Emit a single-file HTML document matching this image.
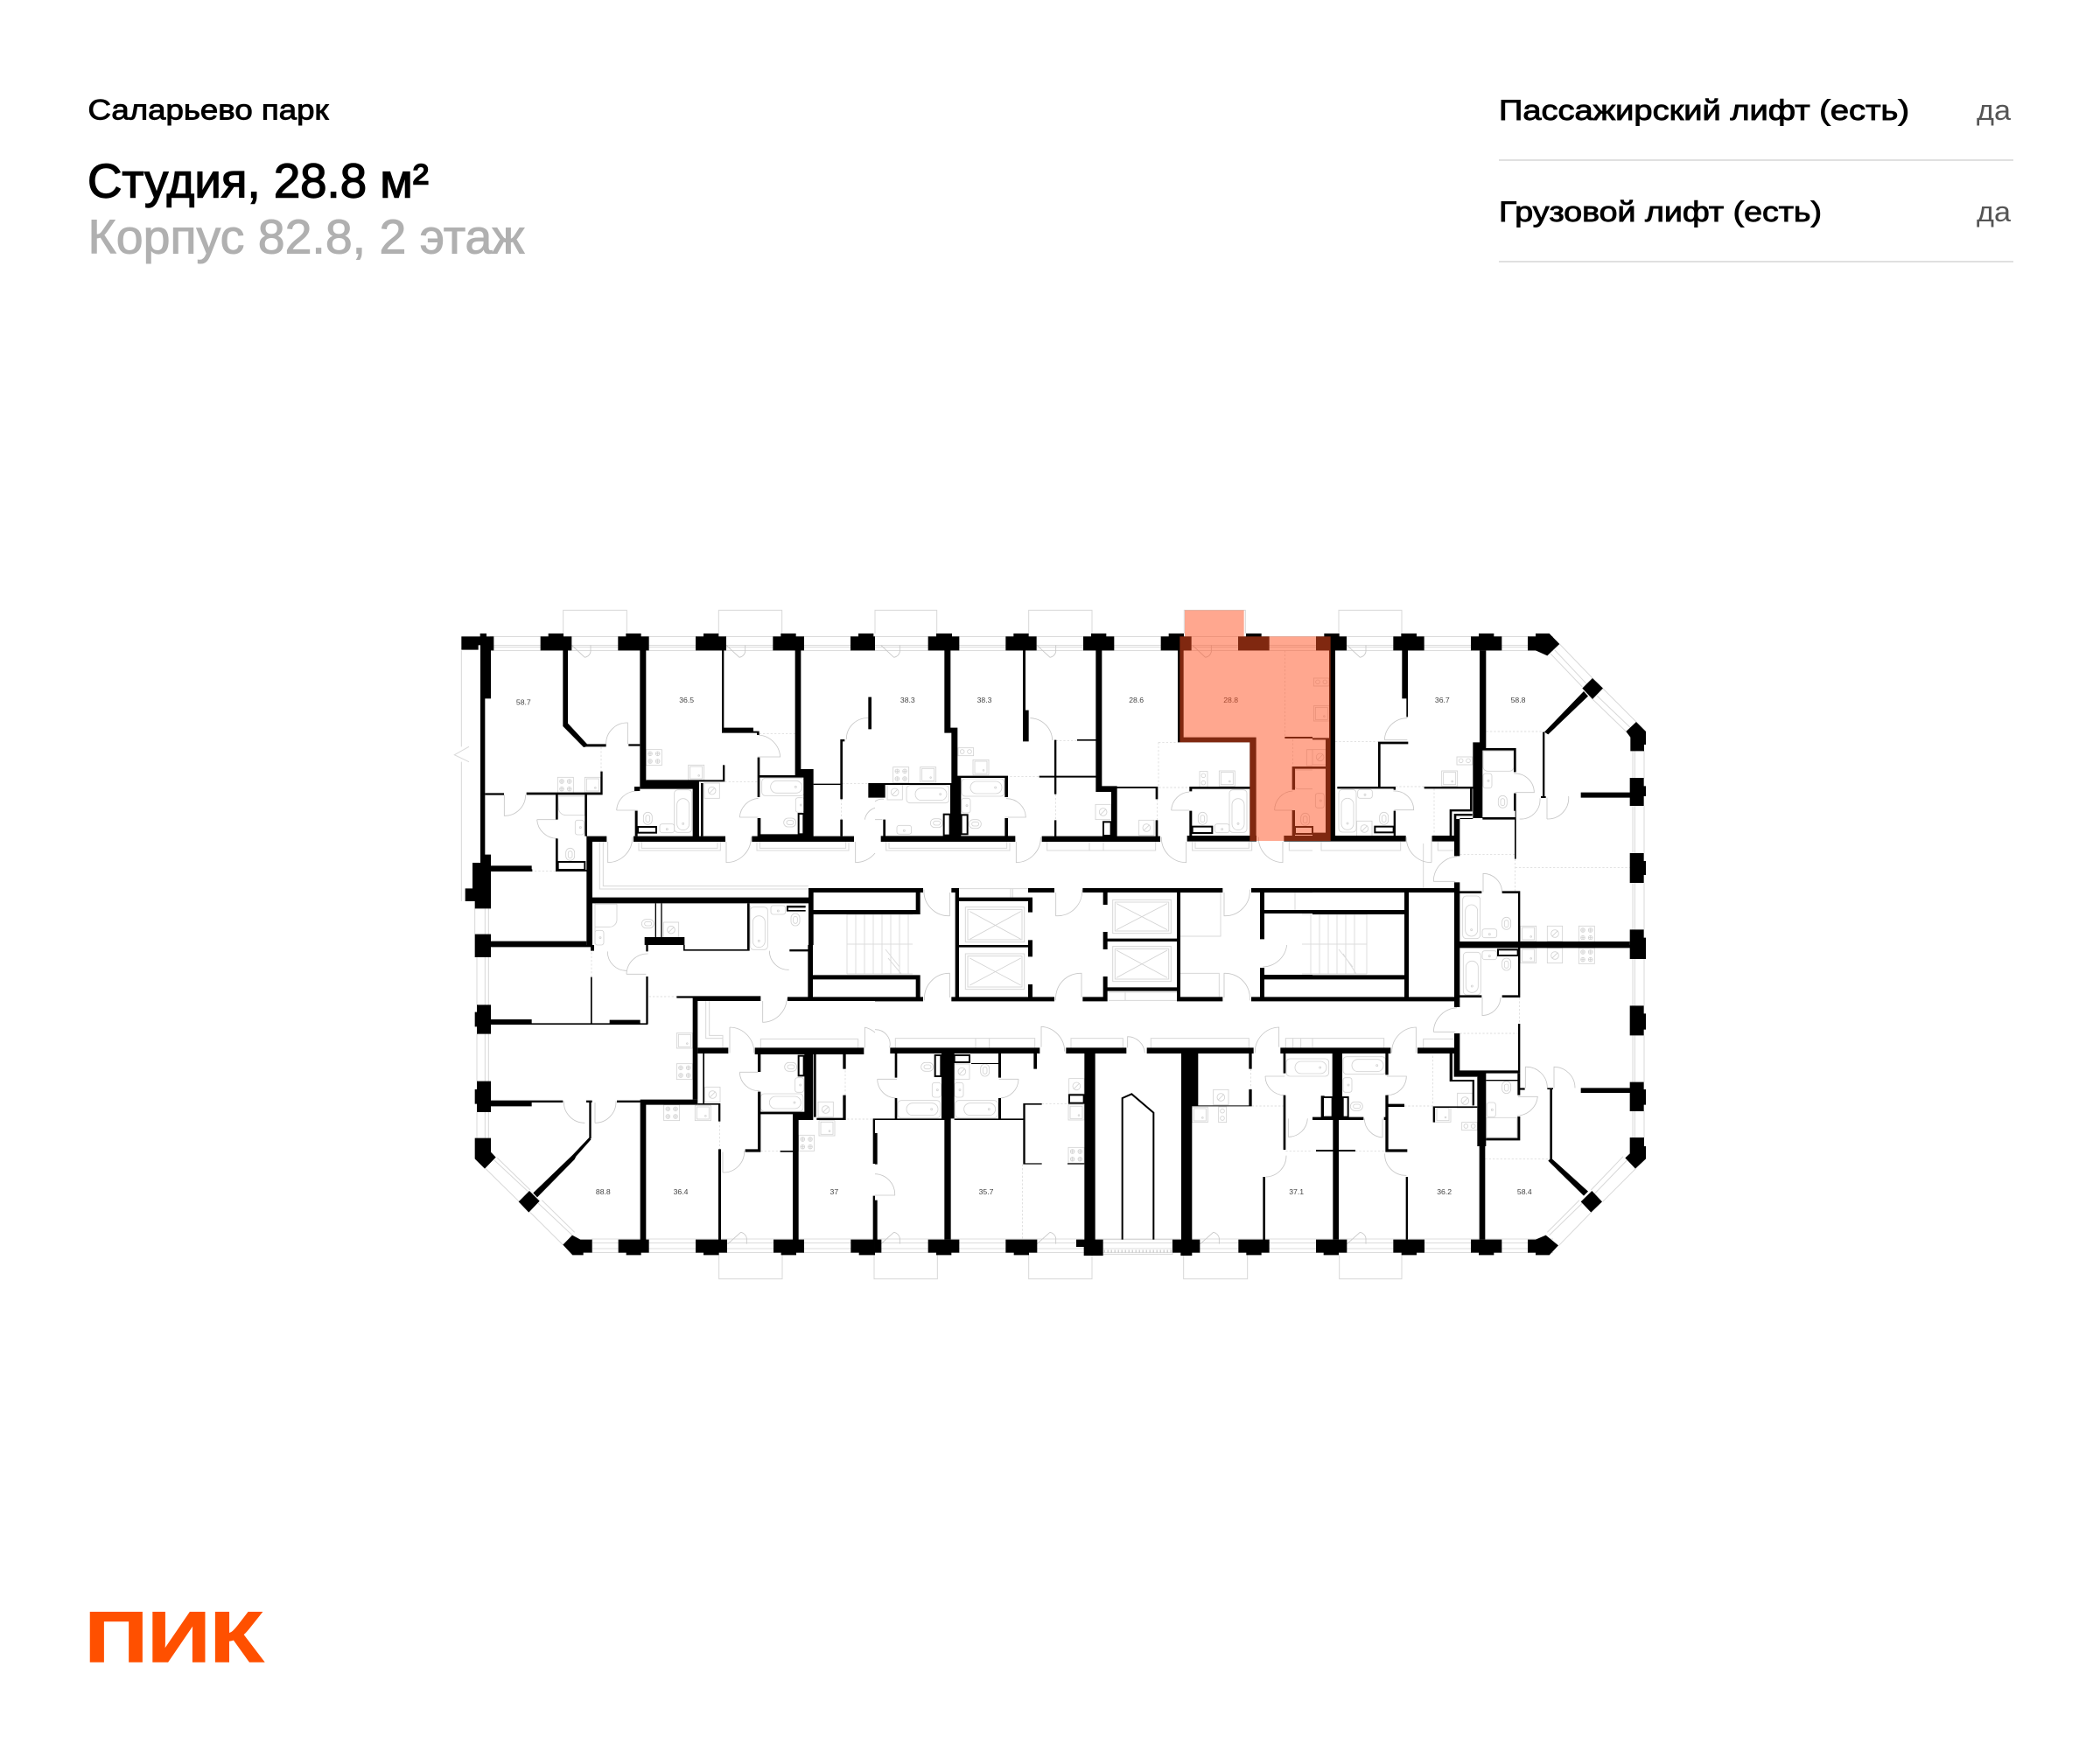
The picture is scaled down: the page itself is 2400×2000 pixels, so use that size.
<!DOCTYPE html>
<html lang="ru"><head><meta charset="utf-8"><title>Студия 28.8</title>
<style>
html,body{margin:0;padding:0;background:#fff}
svg{display:block}
text{font-family:"Liberation Sans",sans-serif}
.l,.l *{fill:none;stroke:#d8d8d8;stroke-width:3}
.f{fill:none;stroke:#d2d2d2;stroke-width:2.5}
.d{fill:none;stroke:#c6c6c6;stroke-width:2.5}
.da{fill:none;stroke:#d2d2d2;stroke-width:2;stroke-dasharray:7 6}
.w{fill:#000}
.s{fill:#fff;stroke:#000;stroke-width:6}
.lb{font-size:26px;fill:#444;text-anchor:middle}
</style></head><body>
<svg xmlns="http://www.w3.org/2000/svg" width="2400" height="2000" viewBox="0 0 2400 2000">
<defs>
<g id="st4" class="f"><rect width="54" height="54"/><circle cx="14" cy="14" r="7"/><circle cx="40" cy="14" r="7"/><circle cx="14" cy="40" r="7"/><circle cx="40" cy="40" r="7"/><path d="M7 14H21M14 7V21M33 14H47M40 7V21M7 40H21M14 33V47M33 40H47M40 33V47"/></g>
<g id="st2" class="f"><rect width="53" height="27"/><circle cx="14" cy="13" r="7"/><circle cx="39" cy="13" r="7"/></g>
<g id="st2v" class="f"><rect width="27" height="53"/><circle cx="13" cy="14" r="7"/><circle cx="13" cy="39" r="7"/></g>
<g id="sq" class="f"><rect width="54" height="52"/><rect x="6" y="5" width="42" height="42"/><circle cx="36" cy="36" r="2.5"/></g>
<g id="ve" class="f"><rect width="52" height="52"/><circle cx="26" cy="26" r="13"/><path d="M16 36L36 16"/></g>
<g id="bh" class="f"><rect width="146" height="60" rx="12"/><rect x="30" y="9" width="108" height="42" rx="21"/><circle cx="116" cy="30" r="3"/></g>
<g id="bv" class="f"><rect width="60" height="146" rx="12"/><rect x="9" y="30" width="42" height="108" rx="21"/><circle cx="30" cy="116" r="3"/></g>
<g id="wc" class="f"><rect width="30" height="42" rx="15"/><rect x="8" y="10" width="14" height="24" rx="7"/></g>
<g id="wch" class="f"><rect width="42" height="30" rx="15"/><rect x="10" y="8" width="24" height="14" rx="7"/></g>
<g id="ba" class="f"><rect width="50" height="30" rx="8"/><circle cx="25" cy="18" r="3"/></g>
<g id="bav" class="f"><rect width="30" height="50" rx="8"/><circle cx="18" cy="25" r="3"/></g>
<g id="tw"><path d="M0 -6L45 36M65 -6V17A25 25 0 0 1 45 36" class="d"/></g>
<g id="bw"><path d="M0 5L45 -35M65 5V-15A25 25 0 0 0 45 -35" class="d"/></g>
</defs>

<!-- header -->
<text x="100.5" y="136.5" font-size="32" fill="#000" stroke="#000" stroke-width=".9" textLength="275" lengthAdjust="spacingAndGlyphs">Саларьево парк</text>
<text x="100" y="225.5" font-size="55" fill="#000" stroke="#000" stroke-width="1.4" textLength="390" lengthAdjust="spacingAndGlyphs">Студия, 28.8 м²</text>
<text x="100.5" y="289.5" font-size="55" fill="#b0b0b0" stroke="#b0b0b0" stroke-width="1" textLength="499" lengthAdjust="spacingAndGlyphs">Корпус 82.8, 2 этаж</text>
<text x="1713" y="137" font-size="32" fill="#000" stroke="#000" stroke-width=".9" textLength="469" lengthAdjust="spacingAndGlyphs">Пассажирский лифт (есть)</text>
<text x="1713" y="253" font-size="32" fill="#000" stroke="#000" stroke-width=".9" textLength="369" lengthAdjust="spacingAndGlyphs">Грузовой лифт (есть)</text>
<text x="2259" y="137" font-size="32" fill="#555" textLength="39" lengthAdjust="spacingAndGlyphs">да</text>
<text x="2259" y="253" font-size="32" fill="#555" textLength="39" lengthAdjust="spacingAndGlyphs">да</text>
<rect x="1713" y="182" width="588" height="2" fill="#e0e0e0"/>
<rect x="1713" y="298" width="588" height="2" fill="#e0e0e0"/>
<text x="97" y="1899" font-size="82" font-weight="bold" fill="#ff5000" stroke="#ff5000" stroke-width="1.5" textLength="204" lengthAdjust="spacingAndGlyphs">ПИК</text>

<!-- window bands -->
<path d="M560 727.5H1775M560 737.5H1775M560 739.5H1775M560 743.5H1775M676 1416H1775M676 1420.5H1775M676 1427H1775M676 1431.5H1775" stroke="#dcdcdc" stroke-width="1" fill="none"/>

<!-- stairs -->
<g stroke="#dcdcdc" stroke-width="1" fill="none">
<path d="M968 1045H1043M968 1113H1043M968 1045V1113M978 1045V1113M988 1045V1113M998 1045V1113M1008 1045V1113M1018 1045V1113M1028 1045V1113M1038 1045V1113M968 1079H1043M1015 1095L1030 1113M1012 1085L1028 1105"/>
<path d="M1488 1045H1562M1488 1113H1562M1562 1045V1113M1498 1045V1113M1508 1045V1113M1518 1045V1113M1528 1045V1113M1538 1045V1113M1548 1045V1113M1488 1079H1562M1535 1090L1550 1113M1530 1085L1546 1105"/>
</g>

<!-- TILE A -->
<g transform="translate(500,680) scale(.33333)">
<path class="l" d="M431 132V52H649V132M964 132V52H1181V132M82 190V520M82 572V1050M108 520L58 548L108 572M128 1075V1163M163 1075V1163M175 1075V1163M556 846V1008H1272M568 846V998H1272M690 846V876H970V846M700 846V868H960V846M1095 846V876H1410V846M1105 846V868H1400V846M1072 1065V1195M540 1057V1195"/>
<path class="da" d="M561 522V605M715 638H975M985 640H1097M1103 475H1226M320 946H405M1384 700V770M1389 647H1477"/>
<use href="#tw" x="460" y="178"/><use href="#tw" x="990" y="178"/>
<path class="d" d="M578 512A72 72 0 0 1 652 438V512M229 685V757A72 72 0 0 0 302 685M341 770A70 70 0 0 0 411 835M341 770H405M614 738A70 70 0 0 1 686 672M614 738H686M584 846V917A85 85 0 0 0 668 830M990 846V917A85 85 0 0 0 1075 830M1036 762A70 70 0 0 1 1100 697M1036 762H1100M1402 495A72 72 0 0 1 1477 422M1433 846V917A85 85 0 0 0 1500 885M1465 770A50 50 0 0 1 1500 730M1100 480A80 80 0 0 1 1175 555H1097"/>
<use href="#st4" x="412" y="625"/><use href="#sq" x="505" y="625"/><use href="#st4" x="715" y="530"/><use href="#sq" x="860" y="583"/><use href="#ve" x="915" y="645"/>
<use href="#bv" x="812" y="668"/><use href="#bh" x="1112" y="628"/><use href="#wc" x="706" y="745"/><use href="#ba" x="762" y="785"/><use href="#bav" x="1228" y="695"/><use href="#wch" x="1187" y="765"/>
<use href="#wc" x="440" y="868"/><use href="#bav" x="472" y="772"/>
<path class="f" d="M413 690H505V755H440A25 25 0 0 1 415 730ZM540 1060H615V1115A25 25 0 0 1 590 1138H540"/>
<use href="#wch" x="700" y="1112"/><use href="#ve" x="775" y="1122"/><use href="#bv" x="1072" y="1070"/><use href="#ba" x="1143" y="1065"/><use href="#wc" x="1212" y="1092"/><use href="#bav" x="540" y="1150"/>
<path class="w" d="M82 142H146V132H168V142H193V190H183V355H163V890H183V928H323V946H183V1075H128V1050H95V1006H120V918H147V172H140V188H82Z"/>
<path class="w" d="M128 1163H183V1200H128ZM183 1187H511V1200H183ZM353 142H380V132H432V142H460V190H447V440L513 511H578V520H510L501 522L430 450V190H353Z"/>
<path class="w" d="M619 142H646V132H698V142H725V190H715V637H897V827H987V846H672V827H875V665H694V190H619Z"/>
<path class="w" d="M655 511H694V518H655ZM675 657H694V672H675ZM677 740H686V827H677ZM903 645H911V827H903ZM978 583H985V640H715V634H978Z"/>
<path class="w" d="M885 142H912V132H964V142H990V190H982V455H1083V467H1103V480H1095V473H975V190H885Z"/>
<path class="w" d="M1150 142H1177V132H1229V142H1257V190H1246V597H1289V827H1428V846H1078V827H1097V765H1108V820H1255V626H1105V693H1097V557H1105V618H1226V190H1150Z"/>
<rect class="s" x="687" y="795" width="63" height="20" stroke-width="5"/><rect class="s" x="1238" y="750" width="17" height="70" stroke-width="5"/>
<path class="w" d="M559 605H566V685H305V677H559ZM163 679H228V686H163ZM405 685H413V770H405ZM405 835H413V946H405ZM505 685H513V827H505Z"/>
<rect class="s" x="413" y="915" width="92" height="27" stroke-width="5"/>
<path class="w" d="M511 827H580V846H531V1200H511ZM183 940H325V948H183ZM405 942H511V948H405ZM511 1037H1285V1057H511ZM1272 1005H1500V1020H1289V1080H1500V1095H1289V1200H1272Z"/>
<path class="w" d="M746 1057H750V1175H746ZM766 1057H770V1175H766ZM710 1173H847V1200H710ZM1381 495H1396V502H1389V700H1381ZM1381 770H1389V827H1381ZM1289 647H1381V651H1289ZM1477 350H1488V460H1477ZM1477 645H1500V695H1477ZM1416 142H1443V132H1495V142H1500V190H1416Z"/>
<path class="w" d="M1062 1057H1070V1200H1062ZM1197 1065H1262V1072H1197ZM1197 1080H1262V1085H1197ZM1197 1065H1203V1085H1197Z"/>
<text class="lb" x="295" y="377">58.7</text><text class="lb" x="854" y="369">36.5</text>
</g>

<!-- TILE B -->
<g transform="translate(1000,680) scale(.33333)">
<path class="l" d="M0 132V52H212V132M527 132V52H744V132M1060 132V52H1270V132M38 846V876H462V846M48 846V868H452V846M590 846V876H962V846M735 846V876M783 846V876M1088 846V876H1292V846M1098 846V868H1282V846M1420 846V876H1500M288 1007H525M465 1007V1037M472 1007V1037M310 1070H512V1190H310ZM318 1078H504V1182H318ZM815 1045H1015V1160H815ZM823 1053H1007V1152H823ZM1047 1020H1185V1170H1047M1335 1020H1500M1440 1020V1080"/>
<path class="f" d="M325 1085L500 1180M500 1085L325 1180M828 1058L1002 1148M1002 1058L828 1148"/>
<path class="da" d="M450 622H563M620 500H693M620 683V772M972 505H1038M972 505V660H1078M967 700V772M1405 190V486M1432 495V585"/>
<use href="#tw" x="20" y="178"/><use href="#tw" x="555" y="178"/><use href="#tw" x="1088" y="178"/>
<path class="d" d="M450 698A66 66 0 0 1 517 762H445M532 422A78 78 0 0 1 608 498M484 846V917A85 85 0 0 0 568 830M1067 846V917A85 85 0 0 1 982 830M1398 846V917A85 85 0 0 1 1315 830M1016 738A66 66 0 0 1 1078 675M1016 738H1078M1370 738A66 66 0 0 1 1432 672M1370 738H1432M0 770H25M0 708A40 40 0 0 1 30 700M168 1010A85 85 0 0 0 256 1100V1020M710 1010A85 85 0 0 1 620 1100V1020M1285 1010A85 85 0 0 1 1197 1100V1020"/>
<use href="#st4" x="62" y="590"/><use href="#sq" x="155" y="590"/><use href="#ve" x="42" y="650"/><use href="#bh" x="108" y="653"/><use href="#st2" x="285" y="524"/><use href="#sq" x="336" y="565"/><use href="#bh" x="297" y="630"/><use href="#wch" x="190" y="767"/><use href="#ba" x="75" y="790"/><use href="#bav" x="297" y="697"/><use href="#wch" x="322" y="770"/>
<use href="#ve" x="756" y="718"/><use href="#ve" x="905" y="772"/><use href="#st2v" x="1113" y="605"/><use href="#sq" x="1180" y="603"/><use href="#bv" x="1215" y="668"/><use href="#wc" x="1108" y="745"/><use href="#ba" x="1165" y="785"/>
<path class="f" d="M1440 600H1500M1440 600V655A10 10 0 0 0 1450 665H1500M1480 530H1500M1480 530V585H1500"/>
<use href="#wc" x="1460" y="748"/>
<path class="w" d="M182 142H210V132H264V142H289V190H182ZM238 190H259V455H283V620H295V827H258V645H262V473H238ZM20 826H481V846H20ZM28 770H36V826H28ZM0 645H35V695H0ZM35 645H262V651H35ZM283 620H455V627H283ZM445 620H456V693H445ZM445 765H456V826H445Z"/>
<rect class="s" x="236" y="752" width="21" height="72" stroke-width="5"/><rect class="s" x="296" y="754" width="21" height="66" stroke-width="5"/>
<path class="w" d="M448 142H475V132H527V142H554V190H516V395H527V502H507V190H448ZM615 497H622V683H615ZM615 772H622V827H615ZM693 495H757V500H693ZM563 620H757V626H563ZM572 827H978V846H572ZM714 142H741V132H793V142H820V190H778V655H830V827H810V675H757V190H714ZM962 658H970V700H962ZM962 772H970V827H962ZM830 657H970V663H830Z"/>
<rect class="s" x="783" y="778" width="26" height="47" stroke-width="5"/>
<path class="w" d="M980 142H1007V132H1059V142H1085V190H1058V488H1307V845H1285V505H1038V190H980ZM1245 142H1272V132H1325V142H1352V190H1245ZM1078 657H1285V665H1087V673H1078ZM1078 740H1087V825H1078ZM1070 825H1308V845H1070ZM1405 486H1500V492H1405ZM1430 588H1500V596H1440V668H1430ZM1430 738H1440V825H1430ZM1402 825H1500V845H1402Z"/>
<rect class="s" x="1088" y="794" width="68" height="22" stroke-width="5"/><rect class="s" x="1440" y="795" width="60" height="24" stroke-width="5"/>
<path class="w" d="M0 1005H165V1020H155V1095H0V1080H140V1020H0ZM262 1005H288V1037H540V1088H525V1050H288V1200H275V1020H262ZM525 1005H615V1020H525ZM525 1183H540V1200H525ZM712 1005H1192V1020H1047V1200H1035V1188H797V1200H782V1155H797V1178H1035V1020H797V1062H782V1020H712ZM1290 1005H1500V1020H1335V1080H1500V1092H1335V1180H1320V1020H1290Z"/>
<text class="lb" x="112" y="369">38.3</text><text class="lb" x="375" y="369">38.3</text><text class="lb" x="896" y="369">28.6</text><text class="lb" x="1220" y="369">28.8</text>
</g>

<!-- TILE C -->
<g transform="translate(1500,680) scale(.33333)">
<path class="l" d="M90 132V52H306V132M847 168L960 285M995 320L1110 435M815 200L925 315M830 188L940 305M960 357L1075 468M975 345L1090 455M1098 535V628M1105 535V628M1137 535V628M1098 723V885M1105 723V885M1137 723V885M1098 987V1147M1105 987V1147M1137 987V1147M30 846V876H302V846M430 846V876H486M380 1013V852"/>
<path class="da" d="M78 503H225M285 657H383M417 664V825M596 468H790M505 890H695M695 905V1015M695 935H1088"/>
<use href="#tw" x="118" y="178"/>
<path class="d" d="M247 497A78 78 0 0 1 325 422M247 497H325M277 672A66 66 0 0 1 347 737H280M408 917V826M408 917A85 85 0 0 1 322 830M415 982A85 85 0 0 1 495 897M415 982H490M585 1018V955A65 65 0 0 1 650 1018M690 612A66 66 0 0 1 760 677H695M710 768A66 66 0 0 0 780 697M804 768V695M804 768A72 72 0 0 0 878 690"/>
<use href="#st2" x="4" y="285"/><use href="#sq" x="4" y="380"/><use href="#ve" x="0" y="530" /><use href="#bav" x="10" y="680"/><use href="#bv" x="90" y="667"/><use href="#ba" x="155" y="667"/><use href="#wc" x="230" y="745"/><use href="#ve" x="152" y="775"/><use href="#st2" x="495" y="555"/><use href="#sq" x="443" y="603"/>
<use href="#bav" x="585" y="612"/><use href="#wc" x="637" y="688"/><use href="#bv" x="515" y="1032"/><use href="#ba" x="582" y="1145"/><use href="#wc" x="650" y="1105"/><use href="#sq" x="713" y="1135"/><use href="#ve" x="805" y="1135"/><use href="#st4" x="913" y="1135"/>
<path class="f" d="M585 535H690V590A14 14 0 0 1 676 604H600A15 15 0 0 1 585 590Z"/>
<path class="w" d="M12 142H40V132H92V142H117V190H78V825H320V845H0V815H45V490H57V190H12ZM0 490H45V496H0ZM0 588H45V596H0ZM225 503H328V511H233V657H285V668H278V664H85V657H225ZM278 740H285V825H278Z"/>
<rect class="s" x="214" y="794" width="64" height="20" stroke-width="5"/>
<path class="w" d="M277 142H304V132H357V142H383V190H327V418H322V355H307V190H277ZM383 657H552V664H383Z"/>
<path class="w" d="M543 142H570V132H622V142H649V190H543Z"/>
<path class="w" d="M573 190H595V525H583V765H505V895H486V768H550V505H573ZM583 525H698V607H690V533H583ZM690 680H698V905H693V770H583V762H695V740H690ZM410 825H487V845H410ZM540 662H548V740H540ZM470 735H548V742H478V825H470ZM485 750H548V757H493V825H485ZM486 985H505V1188H1088V1200H486ZM0 1005H486V1020H330V1200H315V1095H0V1080H315V1020H0ZM505 1015H580V1023H505ZM650 1015H712V1188H705V1023H650Z"/>
<path class="w" d="M738 142H765V132H812L847 168L805 208L765 190H738ZM960 285L996 320L960 357L925 320ZM930 330L945 347L808 478L795 470ZM789 470H796V692H789ZM783 690H800V696H783ZM1110 435L1143 468V513H1137V535H1090V488L1075 468ZM1088 627H1136V655H1143V690H1136V723H1088V695H920V677H1088ZM1088 885H1136V912H1143V960H1136V987H1088ZM1088 1147H1136V1175H1143V1200H1088Z"/>
<text class="lb" x="445" y="369">36.7</text><text class="lb" x="705" y="369">58.8</text>
</g>

<!-- TILE F -->
<g transform="translate(500,1080) scale(.33333)">
<path class="l" d="M135 42V205M163 42V205M175 42V205M135 305V467M163 305V467M175 305V467M135 573V662M163 573V662M175 573V662M165 767L280 880M195 738L310 845M205 730L318 840M318 917L430 1028M345 885L462 995M358 875L470 985M530 1010V1055M965 1063V1145H1182V1063M1497 1063V1145H1500M920 192V320H978V352M932 192V310H978V352M1108 352V322H1442V352"/>
<path class="da" d="M528 25V110M725 177H820M850 18H935M968 605V700M1108 706H1175M1398 430V515M1405 597H1493"/>
<use href="#bw" x="995" y="1020"/>
<path class="d" d="M583 22A65 65 0 0 0 648 88M648 100A72 72 0 0 1 722 30M648 100H715M1138 20A65 65 0 0 0 1205 85M1115 192V265A85 85 0 0 0 1198 182M1002 282A85 85 0 0 1 1085 370V365M1002 282V370M433 535A72 72 0 0 0 505 610M540 610A72 72 0 0 0 612 535M540 610V540M978 780V710M978 780A72 72 0 0 0 1052 705M1036 436A66 66 0 0 0 1105 500M1036 436H1100M1465 352V282M1465 282A85 85 0 0 1 1500 300"/>
<use href="#sq" x="820" y="302"/><use href="#st4" x="820" y="407"/><use href="#st4" x="776" y="548"/><use href="#sq" x="883" y="550"/><use href="#ve" x="917" y="487"/><use href="#ve" x="1305" y="538"/><use href="#sq" x="1308" y="602"/><use href="#st4" x="1238" y="652"/><use href="#bh" x="1108" y="510"/><use href="#wch" x="1190" y="403"/><use href="#bav" x="1226" y="455"/>
<path class="w" d="M128 0H183V42H128ZM183 0H530V7H183ZM525 0H537V20H525ZM715 0H722V22H715ZM843 15H1065V20H843ZM843 0H848V20H843ZM1062 0H1070V20H1062ZM1207 15H1285V22H1207ZM1270 0H1287V178H1500V192H1200V178H1270ZM1287 103H1500V118H1287ZM525 110H530V270H525ZM715 108H722V272H715ZM590 257H695V270H590ZM820 175H892V530H875V182H820ZM875 175H1108V192H875Z"/>
<path class="w" d="M135 205H183V255H323V268H720V273H183V305H135V280H128V230H135ZM135 467H183V533H430V540H323V553H183V573H135V545H128V495H135ZM510 533H530V540H510ZM615 533H695V540H615ZM520 535H527V663H520ZM520 660L527 666L475 725L470 735L342 865L328 850L465 718ZM315 843L350 878L313 917L278 880ZM128 662H183V710L200 728L162 767L128 733ZM462 995L490 1010H530V1055H500V1063H463L430 1028ZM620 1010H695V530H892V548H715V1010H725V1055H698V1063H647V1055H620Z"/>
<path class="w" d="M892 352H997V372H892ZM910 372H915V545H910ZM892 543H970V548H892ZM963 545H970V605H963ZM963 700H972V1010H963ZM885 1010H993V1055H965V1063H912V1055H885Z"/>
<path class="w" d="M1088 352H1462V375H1288V600H1238V1010H1218V580H1105V700H1055V710H1108V503H1098V700H1108V572H1258V375H1108V435H1098V375H1088ZM1175 705H1218V710H1175ZM1300 593H1400V600H1300ZM1390 372H1400V425H1390ZM1390 515H1400V595H1390ZM1290 372H1298V590H1290ZM1152 1010H1257V1055H1230V1063H1178V1055H1152ZM1417 1010H1500V1063H1445V1055H1417ZM1493 595H1500V750H1493ZM1493 860H1500V1010H1493Z"/>
<rect class="s" x="1238" y="380" width="18" height="68" stroke-width="5"/>
<text class="lb" x="568" y="855">88.8</text><text class="lb" x="834" y="855">36.4</text><text class="lb" x="1360" y="855">37</text>
</g>

<!-- TILE G -->
<g transform="translate(1000,1080) scale(.33333)">
<path class="l" d="M214 1063V1145H0M527 1063V1145H744V1063M1058 1063V1145H1277V1063M70 352V320H548V352M345 320V352M392 320V352M672 352V320H850V352M946 352V320H1282V352M1408 352V320H1500M1433 320V352M1460 320V352M310 30H512V152H310ZM318 38H504V144H318ZM815 5H1015V125H815ZM823 13H1007V117H823ZM1047 97H1180V178M800 162H1035M800 190H1035M858 160V190M782 1010H1020V1060H782"/>
<path class="f" d="M325 45L500 138M500 45L325 138M828 18L1002 112M1002 18L828 112"/>
<path d="M785 1050H1020" stroke="#bbb" stroke-width="9" stroke-dasharray="3 9" fill="none"/>
<path class="da" d="M572 545H665M506 752V1010M1288 425V495M1292 552H1400M1408 706H1500"/>
<use href="#bw" x="20" y="1020"/><use href="#bw" x="555" y="1020"/><use href="#bw" x="1115" y="1020"/>
<path class="d" d="M170 190A85 85 0 0 1 256 97V180M620 190A85 85 0 0 1 708 97V180M1285 190A85 85 0 0 0 1197 97V180M1412 0A85 85 0 0 1 1330 75M0 290A50 50 0 0 1 50 352M570 350V280A85 85 0 0 1 650 365M866 352V314A60 60 0 0 1 925 370M1385 350V282A85 85 0 0 0 1303 370M8 460H75M8 460A66 66 0 0 0 72 525M492 460H425M492 460A66 66 0 0 1 428 525M1338 450H1405M1338 450A66 66 0 0 0 1402 515M1417 658A66 66 0 0 0 1483 595M1417 658V595M1340 795A72 72 0 0 0 1410 722M0 785A70 70 0 0 1 68 858H0"/>
<use href="#bh" x="78" y="533"/><use href="#bh" x="275" y="533"/><use href="#wch" x="158" y="403"/><use href="#wc" x="362" y="408"/><use href="#bav" x="196" y="472"/><use href="#bav" x="273" y="472"/><use href="#ve" x="272" y="408"/><use href="#ve" x="665" y="458"/><use href="#sq" x="663" y="548"/><use href="#st4" x="663" y="694"/><use href="#ve" x="1160" y="496"/><use href="#sq" x="1087" y="556"/><use href="#st2v" x="1178" y="555"/><use href="#bh" x="1410" y="390"/>
<path class="w" d="M0 1010H22V1055H0ZM52 352H565V372H272V600H510V595H260V1010H238V600H0V595H228V372H52ZM68 372H76V455H68ZM68 525H76V595H68ZM423 372H432V455H423ZM423 525H432V595H423ZM544 372H555V425H544ZM0 645H8V752H0ZM0 875H8V1010H0Z"/>
<rect class="s" x="206" y="378" width="20" height="72" stroke-width="5"/><rect class="s" x="272" y="378" width="52" height="24" stroke-width="5"/><path class="w" d="M330 405H423V408H330Z"/>
<path class="w" d="M508 543H572V548H515V748H572V752H508ZM182 1010H289V1055H262V1063H210V1055H182ZM448 1010H556V1055H528V1063H476V1055H448ZM655 352H862V372H755V1010H782V1065H716V1035H690V1010H718V372H655ZM932 352H1298V372H1292V425H1282V372H1108V550H1282V495H1292V553H1087V1010H1114V1055H1087V1065H1048V1055H1020V1010H1050V372H932ZM1098 372H1102V550H1098Z"/>
<rect class="s" x="666" y="514" width="50" height="28" stroke-width="6"/>
<path class="w" d="M660 748H718V752H660Z"/>
<path d="M848 1010V525L880 511L955 575V1010" fill="none" stroke="#000" stroke-width="6"/>
<path class="w" d="M1246 1010H1352V1055H1325V1063H1273V1055H1246ZM1330 795H1338V1010H1330ZM1332 702H1408V515H1400V702H1332V712ZM1400 372H1408V440H1400ZM1390 352H1500V372H1390Z"/>
<path class="w" d="M0 103H155V118H0ZM140 118H155V178H140ZM0 178H165V193H0ZM262 178H615V193H262ZM275 0H288V193H275ZM288 0H540V8H288ZM525 0H540V40H525ZM525 135H540V178H525ZM712 178H797V193H712ZM782 108H797V193H782ZM782 145H1035V158H782ZM782 0H797V15H782ZM1035 0H1047V193H1035ZM1035 178H1192V193H1035ZM1290 178H1500V193H1290ZM1320 78H1335V193H1320ZM1335 102H1500V118H1335Z"/>
<text class="lb" x="381" y="855">35.7</text><text class="lb" x="1445" y="855">37.1</text>
</g>

<!-- TILE H -->
<g transform="translate(1500,1080) scale(.33333)">
<path class="l" d="M92 1063V1145H306V1063M0 352V320H245V352M380 352V322H486M1098 48V208M1105 48V208M1137 48V208M1098 310V470M1105 310V470M1137 310V470M1098 570V660M1105 570V660M1137 570V660M1108 767L995 880M1078 738L965 855M1065 725L955 840M955 917L845 1030M925 885L812 995M915 875L805 985"/>
<path class="da" d="M505 303H705M710 180V270M413 380V550M315 552H413M147 706H250M592 733H810"/>
<use href="#bw" x="118" y="1020"/>
<path class="d" d="M582 180V242A65 65 0 0 0 645 180M415 298A85 85 0 0 1 495 215M415 298H490M272 370A85 85 0 0 1 355 282V370M255 450H322A66 66 0 0 1 255 515M240 660A66 66 0 0 1 178 595M240 660V595M248 715A72 72 0 0 0 322 790M702 585A72 72 0 0 0 772 520H705M730 490V418A72 72 0 0 1 805 490M828 490V418A72 72 0 0 1 900 490"/>
<use href="#bv" x="517" y="25"/><use href="#ba" x="582" y="20"/><use href="#wc" x="650" y="45"/><use href="#sq" x="713" y="10"/><use href="#ve" x="805" y="10"/><use href="#st4" x="913" y="10"/>
<use href="#bh" x="105" y="383"/><use href="#ve" x="497" y="508"/><use href="#sq" x="420" y="555"/><use href="#st2" x="512" y="608"/><use href="#wc" x="650" y="467"/><use href="#bav" x="598" y="540"/>
<path class="f" d="M597 592H700V660H597Z"/>
<path class="w" d="M486 0H1088V10H505V213H486ZM1088 0H1143V48H1088ZM315 0H330V190H315ZM0 103H315V118H0ZM0 178H486V193H0ZM705 10H712V180H705ZM650 172H712V180H650ZM505 172H580V180H505ZM486 303H505V430H705V270H712V440H595V690H592V1010H572V690H565V450H486Z"/>
<rect class="s" x="636" y="16" width="68" height="20" stroke-width="5"/>
<path class="w" d="M595 462H705V466H595ZM703 440H712V515H703ZM712 490H728V497H712ZM703 588H712V670H595V662H703ZM470 370H480V462H555V550H548V468H470ZM413 553H565V558H420V608H413ZM485 370H495V445H565V452H485ZM360 352H486V372H360ZM0 352H268V372H0ZM250 372H260V445H250ZM250 515H260V700H325V710H250ZM260 545H315V555H260ZM245 590H255V600H245ZM320 795H327V1010H320ZM68 372H102V600H90V1010H70V600H0V590H68ZM102 590H175V600H102ZM12 702H147V708H12Z"/>
<rect class="s" x="32" y="520" width="6" height="70" stroke-width="4"/><rect class="s" x="104" y="522" width="18" height="68" stroke-width="5"/>
<rect class="s" x="36" y="522" width="32" height="68" stroke-width="5"/>
<use href="#wch" x="130" y="538"/><use href="#bav" x="105" y="455"/>
<path class="w" d="M12 1010H118V1055H90V1063H38V1055H12ZM277 1010H384V1055H357V1063H305V1055H277ZM543 1010H649V1055H622V1063H570V1055H543ZM738 1010H765L800 995L843 1030L812 1063H765V1055H738ZM958 843L993 880L955 917L920 880ZM1088 660H1137V690H1143V733L1107 767L1072 730L1088 715ZM818 730L945 845L930 860L808 740ZM814 490H822V735H814ZM805 490H825V495H805ZM1088 208H1136V235H1143V290H1136V310H1088ZM1088 470H1136V495H1143V548H1136V570H1088V507H920V490H1088Z"/>
<text class="lb" x="452" y="855">36.2</text><text class="lb" x="727" y="855">58.4</text>
</g>

<!-- selection overlay -->
<g transform="translate(1000,680) scale(.33333)">
<path d="M1062 52H1265V142H1562V843H1285V505H1045V142H1062Z" fill="#ff5020" opacity=".5"/>
</g>
</svg>
</body></html>
